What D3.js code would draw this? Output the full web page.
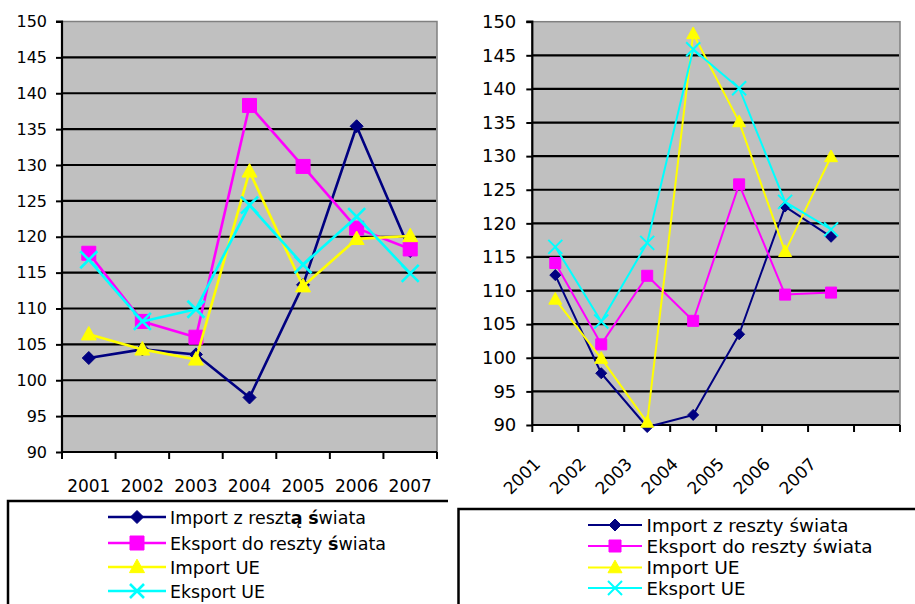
<!DOCTYPE html>
<html><head><meta charset="utf-8">
<script src="https://cdn.jsdelivr.net/npm/d3@7"></script>
<style>
html,body{margin:0;padding:0;background:#fff;}
svg{display:block;}
text{font-family:"DejaVu Sans",Verdana,sans-serif;fill:#000;}
</style></head>
<body>
<svg id="c" width="915" height="604"></svg>
<script>
// ---------- data ----------
const years = ["2001","2002","2003","2004","2005","2006","2007"];
const yTicks = [90,95,100,105,110,115,120,125,130,135,140,145,150];

const leftNames  = ["Import z resztą świata","Eksport do reszty świata","Import UE","Eksport UE"];
const rightNames = ["Import z reszty świata","Eksport do reszty świata","Import UE","Eksport UE"];

// left chart
const leftImportWorld = [103.1,104.3,103.6,97.6,113.3,135.4,118.0];
const leftExportWorld = [117.7,108.2,106.0,138.3,129.8,121.2,118.3];
const leftImportEU    = [106.4,104.3,102.9,129.1,113.1,119.7,120.1];
const leftExportEU    = [116.8,108.2,109.9,124.4,116.1,122.8,114.9];

// right chart (8 category slots, last empty)
const rightCategories = ["2001","2002","2003","2004","2005","2006","2007",""];
const rightImportWorld = [112.3,97.7,89.7,91.5,103.5,122.5,118.0];
const rightExportWorld = [114.1,102.0,112.2,105.5,125.8,109.4,109.7];
const rightImportEU    = [108.7,99.9,90.4,148.2,135.1,115.8,129.9];
const rightExportEU    = [116.5,105.4,117.1,145.9,140.1,123.2,119.1];

const colors  = ["#000080","#FF00FF","#FFFF00","#00FFFF"];
const markers = ["diamond","square","triangle","x"];

const svg = d3.select("#c");

function markerPath(type, r){
  if(type==="diamond") return `M0,${-r}L${r},0L0,${r}L${-r},0Z`;
  if(type==="square") return `M${-r},${-r}H${r}V${r}H${-r}Z`;
  if(type==="triangle") return `M0,${-r*1.05}L${r},${r*0.75}L${-r},${r*0.75}Z`;
  return `M${-r},${-r}L${r},${r}M${r},${-r}L${-r},${r}`;
}
function drawMarker(g, type, color, r, sw){
  const p = g.append("path").attr("d", markerPath(type, r));
  if(type==="x") p.attr("fill","none").attr("stroke",color).attr("stroke-width",sw);
  else p.attr("fill",color).attr("stroke",color).attr("stroke-width",1);
}

function drawChart(cfg){
  const g = svg.append("g");
  const x = d3.scaleBand().domain(cfg.cats).range([cfg.x0,cfg.x1]).padding(0);
  const y = d3.scaleLinear().domain([90,150]).range([cfg.y1,cfg.y0]);

  g.append("rect").attr("x",cfg.x0).attr("y",cfg.y0)
    .attr("width",cfg.x1-cfg.x0).attr("height",cfg.y1-cfg.y0)
    .attr("fill","#C0C0C0").attr("stroke","#808080").attr("stroke-width",1.5);

  // gridlines
  g.selectAll(".grid").data(yTicks.filter(t=>t>90 && t<150)).enter().append("line")
    .attr("x1",cfg.x0).attr("x2",cfg.x1-1)
    .attr("y1",d=>y(d)).attr("y2",d=>y(d))
    .attr("stroke","#000").attr("stroke-width",2.2);

  // y axis
  const ya = d3.axisLeft(y).tickValues(yTicks).tickSize(6).tickPadding(cfg.yPad).tickFormat(d3.format("d"));
  const yg = g.append("g").attr("transform",`translate(${cfg.x0},0)`).call(ya);
  yg.select(".domain").attr("stroke","#000").attr("stroke-width",2.2).attr("d",`M-6,${cfg.y0}H0V${cfg.y1}`);
  yg.selectAll(".tick line").attr("stroke","#000").attr("stroke-width",2);
  yg.selectAll(".tick text").style("font-size",cfg.yFont+"px").attr("fill","#000");

  // x axis line + ticks at band boundaries
  g.append("line").attr("x1",cfg.x0).attr("x2",cfg.x1).attr("y1",cfg.y1).attr("y2",cfg.y1)
    .attr("stroke","#000").attr("stroke-width",2.2);
  const bounds = cfg.cats.map(c=>x(c)).concat([cfg.x1]);
  g.selectAll(".xt").data(bounds).enter().append("line")
    .attr("x1",d=>d).attr("x2",d=>d).attr("y1",cfg.y1).attr("y2",cfg.y1+7)
    .attr("stroke","#000").attr("stroke-width",2);

  // x labels
  const lbl = g.selectAll(".xl").data(cfg.cats.filter(c=>c!=="")).enter().append("text")
    .style("font-size",cfg.xFont+"px").text(d=>d);
  if(cfg.rotate){
    lbl.attr("text-anchor","end")
      .attr("transform",d=>`translate(${x(d)+x.bandwidth()/2-14},${cfg.xLabelY}) rotate(-45)`);
  } else {
    lbl.attr("text-anchor","middle").attr("x",d=>x(d)+x.bandwidth()/2).attr("y",cfg.xLabelY);
  }

  // series
  cfg.series.forEach((vals,i)=>{
    const line = d3.line().x((d,j)=>x(cfg.cats[j])+x.bandwidth()/2).y(d=>y(d));
    g.append("path").datum(vals).attr("d",line).attr("fill","none")
      .attr("stroke",colors[i]).attr("stroke-width",cfg.lw).attr("stroke-linejoin","round");
    vals.forEach((v,j)=>{
      const mg = g.append("g").attr("transform",`translate(${x(cfg.cats[j])+x.bandwidth()/2},${y(v)})`);
      drawMarker(mg, markers[i], colors[i], cfg.mr[i], cfg.lw);
    });
  });
}

drawChart({cats:years, x0:62, x1:437, y0:21.5, y1:452, yFont:16, xFont:17, yPad:9,
  xLabelY:492, rotate:false, lw:2.6, mr:[6.5,7,7.5,8.5],
  series:[leftImportWorld,leftExportWorld,leftImportEU,leftExportEU]});

drawChart({cats:rightCategories, x0:532.3, x1:900, y0:21.7, y1:425, yFont:18, xFont:17, yPad:10,
  xLabelY:465, rotate:true, lw:2, mr:[5.5,5.5,6.5,7],
  series:[rightImportWorld,rightExportWorld,rightImportEU,rightExportEU]});

// ---------- legends ----------
function drawLegend(cfg){
  const g = svg.append("g");
  g.append("path").attr("d",`M${cfg.bx},604V${cfg.by}H${cfg.bx2}`)
    .attr("fill","none").attr("stroke","#000").attr("stroke-width",2.5);
  cfg.names.forEach((n,i)=>{
    const cy = cfg.rows[i];
    g.append("line").attr("x1",cfg.lx0).attr("x2",cfg.lx1).attr("y1",cy).attr("y2",cy)
      .attr("stroke",colors[i]).attr("stroke-width",cfg.lw);
    const mg = g.append("g").attr("transform",`translate(${(cfg.lx0+cfg.lx1)/2},${cy})`);
    drawMarker(mg, markers[i], colors[i], cfg.mr[i], cfg.lw);
    const t = g.append("text").attr("x",cfg.tx).attr("y",cy+6.5).style("font-size",cfg.font+"px")
      .attr("textLength",cfg.widths[i]).attr("lengthAdjust","spacingAndGlyphs");
    if(cfg.boldPolish){
      n.split(/([ąś])/).forEach(part=>{
        if(part==="") return;
        const ts = t.append("tspan").text(part);
        if(part==="ą"||part==="ś") ts.attr("font-weight","bold");
      });
    } else t.text(n);
  });
}

drawLegend({names:leftNames, bx:8, by:501, bx2:448, rows:[517,543,567,591],
  lx0:108, lx1:166, tx:170, font:17, lw:2.6, mr:[6.5,7,7.5,7], boldPolish:true,
  widths:[196,216,90,95]});
drawLegend({names:rightNames, bx:458.5, by:509, bx2:915, rows:[525,546,567.5,588],
  lx0:588, lx1:642, tx:646.5, font:17, lw:2, mr:[6,6,7,7], boldPolish:false,
  widths:[202,226,93,99]});
</script>
</body></html>
